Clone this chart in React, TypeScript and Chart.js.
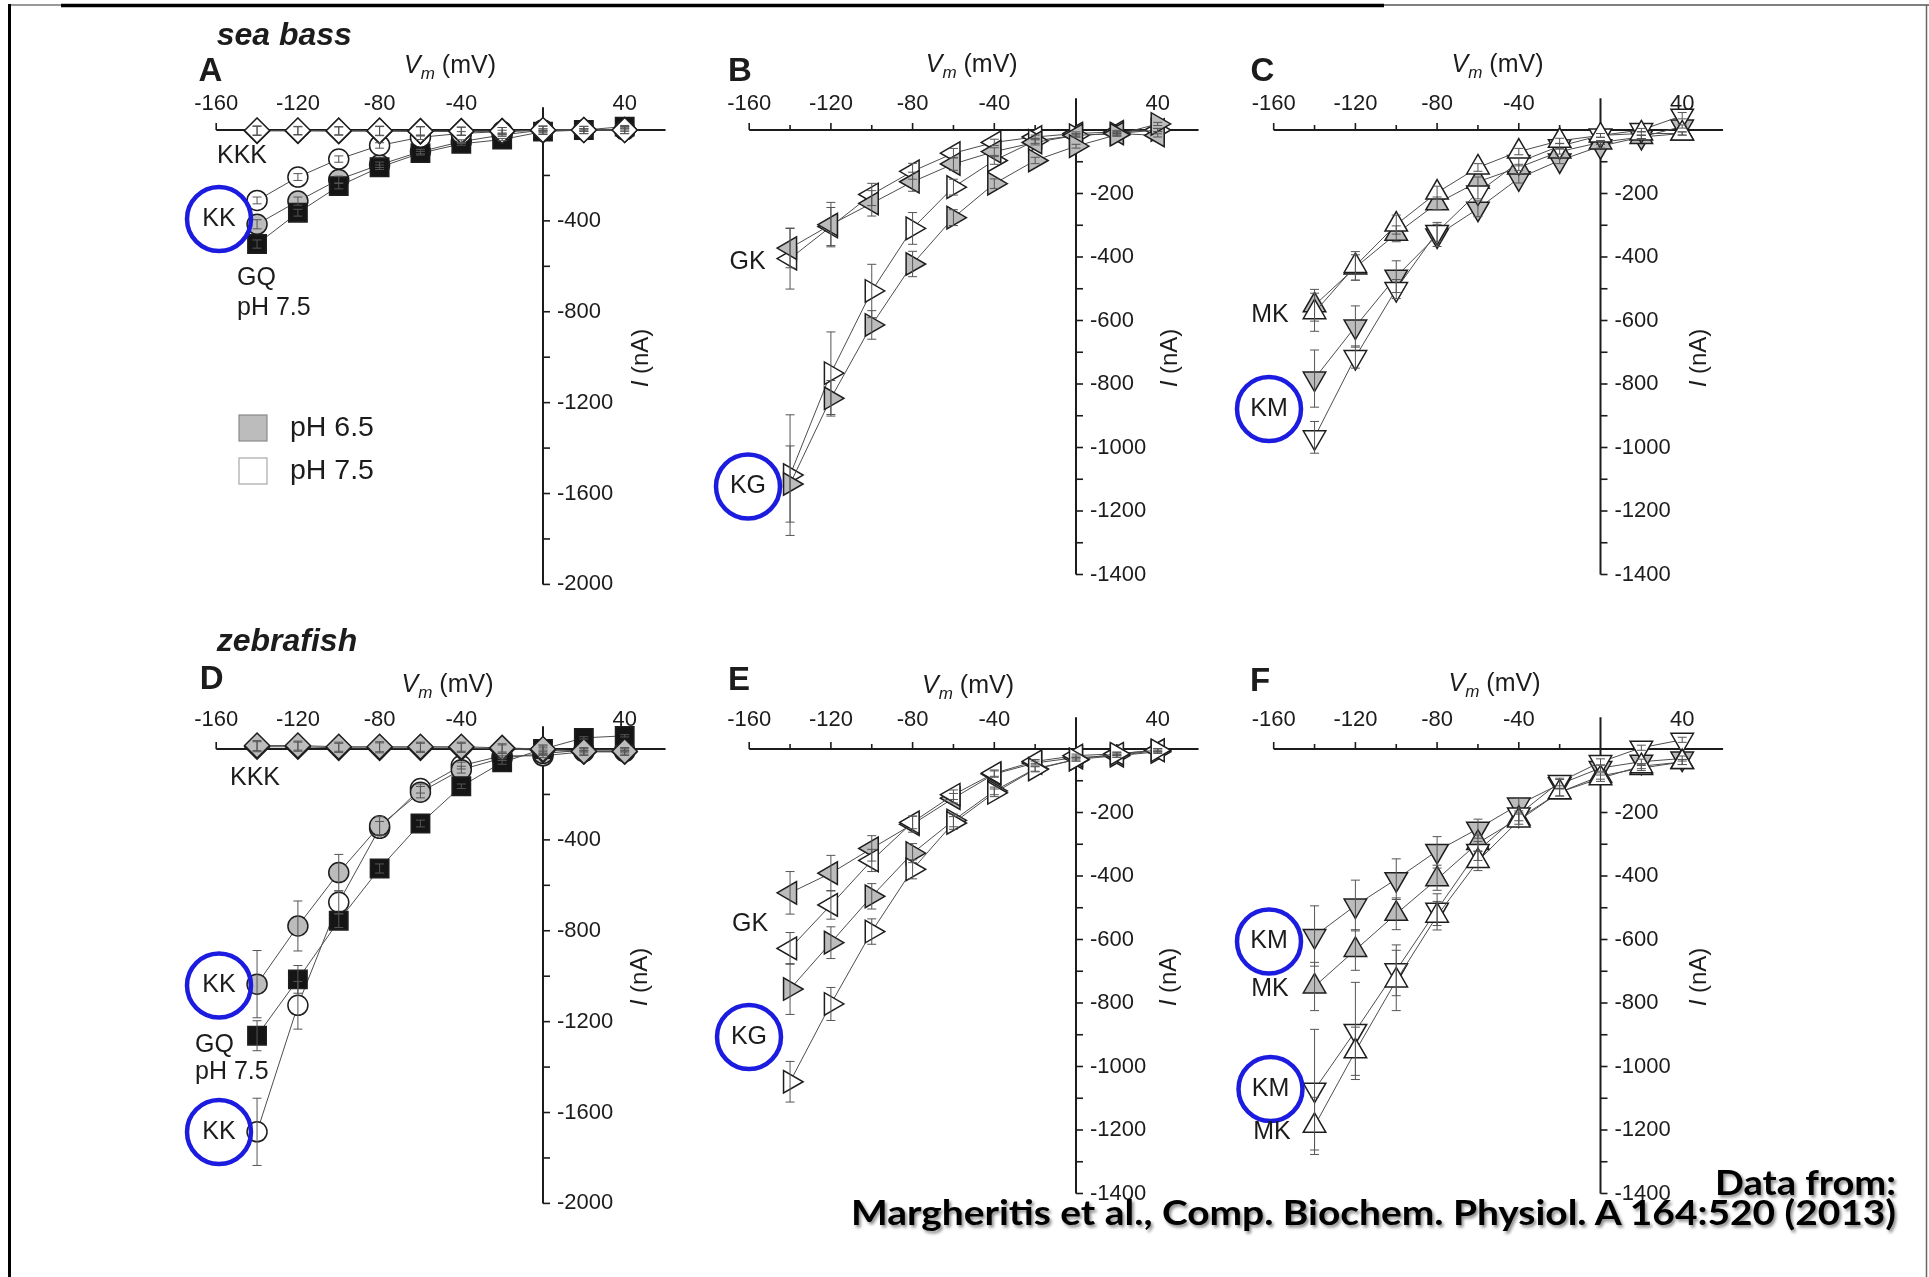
import React, { useEffect, useRef } from 'react';
import { Chart, registerables } from 'chart.js';

Chart.register(...registerables);

// ---------------- data ----------------
const VOLTAGES = [-140, -120, -100, -80, -60, -40, -20, 0, 20, 40];
const X_TICKS = [-160, -140, -120, -100, -80, -60, -40, -20, 20, 40];
const X_TICK_LABELS = [-160, -120, -80, -40, 40];
const Y_TICKS_WIDE = [-200, -400, -600, -800, -1000, -1200, -1400, -1600, -1800, -2000];
const Y_TICK_LABELS_WIDE = [-400, -800, -1200, -1600, -2000];
const Y_TICKS_NARROW = [-100, -200, -300, -400, -500, -600, -700, -800, -900, -1000, -1100, -1200, -1300, -1400];
const Y_TICK_LABELS_NARROW = [-200, -400, -600, -800, -1000, -1200, -1400];

// A — sea bass, KKK / KK / GQ
const SB_KKK_PH75 = [-2, -2, -3, -3, -5, -5, -5, 0, 0, 0];
const SB_KKK_PH65 = [-4, -4, -5, -5, -6, -6, -5, -2, 0, 0];
const SB_KK_PH75 = [-310, -207, -128, -68, -32, -15, -7, 0, 0, 0];
const SB_KK_PH65 = [-415, -313, -218, -153, -95, -51, -22, 0, 0, 0];
const SB_GQ_PH75 = [-502, -364, -247, -164, -102, -61, -42, -7, 0, 15];
const SB_KKK_ERR = [20, 18, 18, 20, 20, 18, 16, 18, 16, 16];
const SB_KK_PH75_ERR = [15, 15, 14, 12, 10, 8, 6, 5, 5, 5];
const SB_KK_PH65_ERR = [20, 18, 15, 12, 10, 8, 6, 5, 5, 5];
const SB_GQ_ERR = [18, 15, 12, 10, 8, 6, 5, 5, 5, 5];

// B — sea bass, GK / KG
const SB_GK_PH65 = [-372, -298, -231, -163, -107, -68, -39, -17, -11, -17];
const SB_GK_PH75 = [-405, -304, -203, -130, -73, -39, -22, -11, -6, 0];
const SB_KG_PH75 = [-1087, -766, -507, -310, -180, -96, -34, -17, -11, 0];
const SB_KG_PH65 = [-1115, -845, -614, -422, -276, -169, -96, -51, -15, 19];
const SB_GK_PH65_ERR = [62, 70, 40, 30, 20, 12, 8, 5, 5, 5];
const SB_GK_PH75_ERR = [96, 60, 35, 25, 15, 10, 6, 5, 5, 5];
const SB_KG_PH75_ERR = [190, 130, 84, 50, 25, 12, 8, 5, 5, 5];
const SB_KG_PH65_ERR = [120, 56, 45, 40, 25, 15, 10, 6, 5, 5];

// C — sea bass, MK / KM
const SB_MK_PH75 = [-574, -428, -298, -197, -118, -68, -34, -17, -11, -11];
const SB_MK_PH65 = [-552, -433, -327, -231, -163, -118, -68, -39, -22, -11];
const SB_KM_PH65 = [-783, -619, -462, -332, -248, -152, -96, -51, -22, 11];
const SB_KM_PH75 = [-968, -715, -501, -321, -197, -101, -51, -17, 0, 45];
const SB_MK_PH75_ERR = [60, 45, 30, 20, 12, 10, 8, 6, 5, 5];
const SB_MK_PH65_ERR = [50, 40, 25, 20, 15, 10, 8, 6, 5, 5];
const SB_KM_PH65_ERR = [90, 65, 50, 35, 25, 15, 10, 6, 5, 5];
const SB_KM_PH75_ERR = [50, 35, 30, 30, 20, 12, 8, 6, 5, 10];

// D — zebrafish, KKK / KK / GQ
const ZF_KKK_PH65 = [15, 15, 10, 10, 10, 10, 5, 0, -10, -10];
const ZF_KKK_PH75 = [10, 10, 5, 5, 5, 5, 0, -5, -12, -12];
const ZF_KK_PH65 = [-1035, -779, -544, -338, -190, -91, -40, -20, -5, -5];
const ZF_KK_PH75 = [-1685, -1128, -675, -349, -174, -73, -30, -30, -12, -12];
const ZF_GQ_PH75 = [-1262, -1014, -756, -526, -328, -164, -59, 0, 49, 58];
const ZF_KKK_ERR = [22, 20, 20, 22, 20, 20, 18, 18, 16, 16];
const ZF_KK_PH65_ERR = [148, 110, 80, 40, 25, 15, 10, 8, 5, 5];
const ZF_KK_PH75_ERR = [148, 105, 50, 30, 20, 15, 10, 8, 5, 5];
const ZF_GQ_ERR = [66, 61, 30, 20, 15, 10, 8, 5, 5, 5];

// E — zebrafish, GK / KG
const ZF_GK_PH65 = [-453, -391, -313, -237, -155, -79, -44, -27, -21, -4];
const ZF_GK_PH75 = [-628, -491, -351, -231, -144, -76, -39, -21, -15, -4];
const ZF_KG_PH65 = [-756, -610, -464, -328, -225, -132, -62, -33, -21, -9];
const ZF_KG_PH75 = [-1048, -803, -575, -379, -233, -138, -64, -33, -15, -4];
const ZF_GK_PH65_ERR = [67, 56, 40, 25, 15, 10, 6, 5, 5, 5];
const ZF_GK_PH75_ERR = [50, 45, 35, 20, 15, 10, 6, 5, 5, 5];
const ZF_KG_PH65_ERR = [80, 50, 40, 30, 20, 12, 8, 5, 5, 5];
const ZF_KG_PH75_ERR = [64, 52, 40, 30, 20, 12, 8, 5, 5, 5];

// F — zebrafish, KM / MK
const ZF_KM_PH65 = [-589, -493, -410, -321, -251, -175, -111, -60, -40, -30];
const ZF_MK_PH65 = [-748, -633, -519, -410, -296, -219, -136, -85, -60, -41];
const ZF_KM_PH75 = [-1073, -888, -697, -506, -321, -206, -104, -41, 4, 29];
const ZF_MK_PH75 = [-1187, -952, -729, -525, -353, -225, -136, -92, -54, -41];
const ZF_KM_PH65_ERR = [95, 80, 64, 45, 30, 20, 15, 10, 8, 8];
const ZF_MK_PH65_ERR = [76, 64, 50, 35, 25, 18, 12, 10, 8, 8];
const ZF_KM_PH75_ERR = [190, 153, 80, 50, 30, 20, 12, 10, 8, 8];
const ZF_MK_PH75_ERR = [90, 76, 95, 45, 30, 20, 12, 10, 8, 8];

const CREDIT_LINE_1 = 'Data from:';
const CREDIT_LINE_2 = 'Margheritis et al., Comp. Biochem. Physiol. A 164:520 (2013)';

// ---------------- styles / layout ----------------
const FONT = '"Liberation Sans", Arial, Helvetica, sans-serif';
const TEXT_COLOR = '#1c1c1c';
const AXIS_COLOR = '#1c1c1c';
const LINE_COLOR = '#4d4d4d';
const MARKER_EDGE = '#1e1e1e';
const ERR_COLOR = '#555555';
const BLUE = '#1c1ce0';
const GREY = '#bcbcbc';
const WHITE = '#ffffff';
const BLACK = '#151515';

const X_MIN = -160;
const X_MAX = 60;
const Y_MAX = 100;
const COL_ZERO_X = [543, 1076, 1600.5];
const ROW_ZERO_Y = [130, 749];
const PX_PER_MV = 2.0425;
const PX_PER_NA_WIDE = 0.2272;
const PX_PER_NA_NARROW = 0.3175;
const COL_BOX = [[140, 690], [690, 1215], [1215, 1760]];
const ROW_BOX = [[0, 620], [620, 1277]];
const X_LABEL_OFFSET = [26, 29];

type Shape = 'circle' | 'square' | 'diamond' | 'up' | 'down' | 'left' | 'right';
const SHAPES: Record<Shape, { style: string; rotation: number; radius: number }> = {
  circle: { style: 'circle', rotation: 0, radius: 10 },
  square: { style: 'rect', rotation: 0, radius: 13 },
  diamond: { style: 'rectRot', rotation: 0, radius: 12.5 },
  up: { style: 'triangle', rotation: 0, radius: 13 },
  down: { style: 'triangle', rotation: 180, radius: 13 },
  left: { style: 'triangle', rotation: 270, radius: 13 },
  right: { style: 'triangle', rotation: 90, radius: 13 },
};

type Series = { values: number[]; errors: number[]; shape: Shape; fill: string };
type Note = { text: string; x: number; y: number; align?: 'left' | 'center'; circled?: boolean };
type Panel = {
  letter: string;
  col: number;
  row: number;
  yMin: number;
  yTicks: number[];
  yLabels: number[];
  series: Series[]; // topmost first
  notes: Note[];
  letterPos: [number, number];
  vmPos: [number, number];
  inaPos: [number, number];
  title?: { text: string; x: number; y: number };
  legend?: boolean;
};

const PANELS: Panel[] = [
  {
    letter: 'A', col: 0, row: 0, yMin: -2000, yTicks: Y_TICKS_WIDE, yLabels: Y_TICK_LABELS_WIDE,
    series: [
      { values: SB_KKK_PH75, errors: SB_KKK_ERR, shape: 'diamond', fill: WHITE },
      { values: SB_KKK_PH65, errors: SB_KKK_ERR, shape: 'diamond', fill: GREY },
      { values: SB_KK_PH75, errors: SB_KK_PH75_ERR, shape: 'circle', fill: WHITE },
      { values: SB_GQ_PH75, errors: SB_GQ_ERR, shape: 'square', fill: BLACK },
      { values: SB_KK_PH65, errors: SB_KK_PH65_ERR, shape: 'circle', fill: GREY },
    ],
    notes: [
      { text: 'KKK', x: 242, y: 156 },
      { text: 'KK', x: 219, y: 219, circled: true },
      { text: 'GQ', x: 237, y: 278, align: 'left' },
      { text: 'pH 7.5', x: 237, y: 308, align: 'left' },
    ],
    letterPos: [210.5, 71.5], vmPos: [450, 66.7], inaPos: [641, 358],
    title: { text: 'sea bass', x: 216.7, y: 45 }, legend: true,
  },
  {
    letter: 'B', col: 1, row: 0, yMin: -1400, yTicks: Y_TICKS_NARROW, yLabels: Y_TICK_LABELS_NARROW,
    series: [
      { values: SB_KG_PH65, errors: SB_KG_PH65_ERR, shape: 'right', fill: GREY },
      { values: SB_GK_PH65, errors: SB_GK_PH65_ERR, shape: 'left', fill: GREY },
      { values: SB_KG_PH75, errors: SB_KG_PH75_ERR, shape: 'right', fill: WHITE },
      { values: SB_GK_PH75, errors: SB_GK_PH75_ERR, shape: 'left', fill: WHITE },
    ],
    notes: [
      { text: 'GK', x: 747.5, y: 262 },
      { text: 'KG', x: 748, y: 486.5, circled: true },
    ],
    letterPos: [740, 71.5], vmPos: [971.7, 65], inaPos: [1170, 358],
  },
  {
    letter: 'C', col: 2, row: 0, yMin: -1400, yTicks: Y_TICKS_NARROW, yLabels: Y_TICK_LABELS_NARROW,
    series: [
      { values: SB_MK_PH75, errors: SB_MK_PH75_ERR, shape: 'up', fill: WHITE },
      { values: SB_KM_PH75, errors: SB_KM_PH75_ERR, shape: 'down', fill: WHITE },
      { values: SB_MK_PH65, errors: SB_MK_PH65_ERR, shape: 'up', fill: GREY },
      { values: SB_KM_PH65, errors: SB_KM_PH65_ERR, shape: 'down', fill: GREY },
    ],
    notes: [
      { text: 'MK', x: 1270, y: 315 },
      { text: 'KM', x: 1269, y: 409, circled: true },
    ],
    letterPos: [1262.5, 71.5], vmPos: [1497.5, 65], inaPos: [1699, 358],
  },
  {
    letter: 'D', col: 0, row: 1, yMin: -2000, yTicks: Y_TICKS_WIDE, yLabels: Y_TICK_LABELS_WIDE,
    series: [
      { values: ZF_KKK_PH65, errors: ZF_KKK_ERR, shape: 'diamond', fill: GREY },
      { values: ZF_KKK_PH75, errors: ZF_KKK_ERR, shape: 'diamond', fill: WHITE },
      { values: ZF_GQ_PH75, errors: ZF_GQ_ERR, shape: 'square', fill: BLACK },
      { values: ZF_KK_PH65, errors: ZF_KK_PH65_ERR, shape: 'circle', fill: GREY },
      { values: ZF_KK_PH75, errors: ZF_KK_PH75_ERR, shape: 'circle', fill: WHITE },
    ],
    notes: [
      { text: 'KKK', x: 255, y: 778 },
      { text: 'KK', x: 219, y: 985.5, circled: true },
      { text: 'GQ', x: 195, y: 1045, align: 'left' },
      { text: 'pH 7.5', x: 195, y: 1072.5, align: 'left' },
      { text: 'KK', x: 219, y: 1132, circled: true },
    ],
    letterPos: [211.7, 680], vmPos: [447.5, 685], inaPos: [640, 977],
    title: { text: 'zebrafish', x: 216.7, y: 650.6 },
  },
  {
    letter: 'E', col: 1, row: 1, yMin: -1400, yTicks: Y_TICKS_NARROW, yLabels: Y_TICK_LABELS_NARROW,
    series: [
      { values: ZF_KG_PH75, errors: ZF_KG_PH75_ERR, shape: 'right', fill: WHITE },
      { values: ZF_GK_PH75, errors: ZF_GK_PH75_ERR, shape: 'left', fill: WHITE },
      { values: ZF_KG_PH65, errors: ZF_KG_PH65_ERR, shape: 'right', fill: GREY },
      { values: ZF_GK_PH65, errors: ZF_GK_PH65_ERR, shape: 'left', fill: GREY },
    ],
    notes: [
      { text: 'GK', x: 750, y: 924 },
      { text: 'KG', x: 749, y: 1037, circled: true },
    ],
    letterPos: [739, 681], vmPos: [968, 686], inaPos: [1169, 977],
  },
  {
    letter: 'F', col: 2, row: 1, yMin: -1400, yTicks: Y_TICKS_NARROW, yLabels: Y_TICK_LABELS_NARROW,
    series: [
      { values: ZF_MK_PH75, errors: ZF_MK_PH75_ERR, shape: 'up', fill: WHITE },
      { values: ZF_KM_PH75, errors: ZF_KM_PH75_ERR, shape: 'down', fill: WHITE },
      { values: ZF_MK_PH65, errors: ZF_MK_PH65_ERR, shape: 'up', fill: GREY },
      { values: ZF_KM_PH65, errors: ZF_KM_PH65_ERR, shape: 'down', fill: GREY },
    ],
    notes: [
      { text: 'KM', x: 1269, y: 941.5, circled: true },
      { text: 'MK', x: 1270, y: 989 },
      { text: 'KM', x: 1270.5, y: 1089, circled: true },
      { text: 'MK', x: 1272, y: 1132 },
    ],
    letterPos: [1260, 681.5], vmPos: [1494.5, 684.7], inaPos: [1699, 977],
  },
];

function drawVm(ctx: CanvasRenderingContext2D, cx: number, cy: number) {
  const big = `italic 25px ${FONT}`;
  const sub = `italic 17px ${FONT}`;
  const norm = `25px ${FONT}`;
  ctx.font = big; const wV = ctx.measureText('V').width;
  ctx.font = sub; const wm = ctx.measureText('m').width;
  ctx.font = norm; const wr = ctx.measureText(' (mV)').width;
  let x = cx - (wV + wm + wr) / 2;
  const base = cy + 6.5;
  ctx.textAlign = 'left';
  ctx.textBaseline = 'alphabetic';
  ctx.font = big; ctx.fillText('V', x, base); x += wV;
  ctx.font = sub; ctx.fillText('m', x, base + 6); x += wm;
  ctx.font = norm; ctx.fillText(' (mV)', x, base);
}

function drawINa(ctx: CanvasRenderingContext2D, cx: number, cy: number) {
  ctx.save();
  ctx.translate(cx, cy);
  ctx.rotate(-Math.PI / 2);
  const it = `italic 24px ${FONT}`;
  const norm = `24px ${FONT}`;
  ctx.font = it; const wI = ctx.measureText('I').width;
  ctx.font = norm; const wr = ctx.measureText(' (nA)').width;
  let x = -(wI + wr) / 2;
  ctx.textAlign = 'left';
  ctx.textBaseline = 'middle';
  ctx.font = it; ctx.fillText('I', x, 0); x += wI;
  ctx.font = norm; ctx.fillText(' (nA)', x, 0);
  ctx.restore();
}

function makePlugin(panel: Panel, bx0: number, by0: number) {
  return {
    id: 'ivPanel' + panel.letter,
    beforeDatasetsDraw(chart: any) {
      const ctx: CanvasRenderingContext2D = chart.ctx;
      const px = (v: number) => chart.scales.x.getPixelForValue(v);
      const py = (v: number) => chart.scales.y.getPixelForValue(v);
      ctx.save();
      ctx.strokeStyle = AXIS_COLOR;
      ctx.lineWidth = 2;
      ctx.beginPath();
      ctx.moveTo(px(X_MIN), py(0));
      ctx.lineTo(px(X_MAX), py(0));
      ctx.stroke();
      ctx.beginPath();
      ctx.moveTo(px(0), py(Y_MAX));
      ctx.lineTo(px(0), py(panel.yMin));
      ctx.stroke();
      ctx.lineWidth = 1.6;
      X_TICKS.forEach((v) => {
        const len = X_TICK_LABELS.includes(v) ? 7 : 5;
        ctx.beginPath();
        ctx.moveTo(px(v), py(0));
        ctx.lineTo(px(v), py(0) - len);
        ctx.stroke();
      });
      panel.yTicks.forEach((v) => {
        ctx.beginPath();
        ctx.moveTo(px(0), py(v));
        ctx.lineTo(px(0) + 7, py(v));
        ctx.stroke();
      });
      ctx.fillStyle = TEXT_COLOR;
      ctx.font = `22px ${FONT}`;
      ctx.textAlign = 'center';
      ctx.textBaseline = 'middle';
      X_TICK_LABELS.forEach((v) => ctx.fillText(String(v), px(v), py(0) - X_LABEL_OFFSET[panel.row]));
      ctx.textAlign = 'left';
      panel.yLabels.forEach((v) => ctx.fillText(String(v), px(0) + 14, py(v)));
      ctx.restore();
    },
    afterDatasetsDraw(chart: any) {
      const ctx: CanvasRenderingContext2D = chart.ctx;
      const px = (v: number) => chart.scales.x.getPixelForValue(v);
      const py = (v: number) => chart.scales.y.getPixelForValue(v);
      ctx.save();
      ctx.strokeStyle = ERR_COLOR;
      ctx.lineWidth = 1;
      const cap = 4.5;
      panel.series.forEach((s) => {
        VOLTAGES.forEach((v, i) => {
          const x = px(v);
          const y1 = py(s.values[i] + s.errors[i]);
          const y2 = py(s.values[i] - s.errors[i]);
          ctx.beginPath();
          ctx.moveTo(x, y1); ctx.lineTo(x, y2);
          ctx.moveTo(x - cap, y1); ctx.lineTo(x + cap, y1);
          ctx.moveTo(x - cap, y2); ctx.lineTo(x + cap, y2);
          ctx.stroke();
        });
      });
      ctx.restore();
    },
    afterDraw(chart: any) {
      const ctx: CanvasRenderingContext2D = chart.ctx;
      const X = (x: number) => x - bx0;
      const Y = (y: number) => y - by0;
      ctx.save();
      ctx.fillStyle = TEXT_COLOR;
      ctx.font = `bold 33px ${FONT}`;
      ctx.textAlign = 'center';
      ctx.textBaseline = 'middle';
      ctx.fillText(panel.letter, X(panel.letterPos[0]), Y(panel.letterPos[1]));
      if (panel.title) {
        ctx.font = `italic bold 32px ${FONT}`;
        ctx.textAlign = 'left';
        ctx.textBaseline = 'alphabetic';
        ctx.fillText(panel.title.text, X(panel.title.x), Y(panel.title.y));
      }
      drawVm(ctx, X(panel.vmPos[0]), Y(panel.vmPos[1]));
      drawINa(ctx, X(panel.inaPos[0]), Y(panel.inaPos[1]));
      ctx.font = `25px ${FONT}`;
      ctx.textBaseline = 'middle';
      panel.notes.forEach((n) => {
        ctx.textAlign = n.align === 'left' ? 'left' : 'center';
        ctx.fillStyle = TEXT_COLOR;
        ctx.fillText(n.text, X(n.x), Y(n.y));
        if (n.circled) {
          ctx.beginPath();
          ctx.strokeStyle = BLUE;
          ctx.lineWidth = 4.5;
          ctx.arc(X(n.x), Y(n.y), 32, 0, Math.PI * 2);
          ctx.stroke();
        }
      });
      if (panel.legend) {
        const items = [
          { fill: GREY, edge: '#8a8a8a', text: 'pH 6.5', top: 415 },
          { fill: WHITE, edge: '#a8a8a8', text: 'pH 7.5', top: 458 },
        ];
        ctx.font = `28.5px ${FONT}`;
        ctx.textAlign = 'left';
        ctx.textBaseline = 'middle';
        items.forEach((it) => {
          ctx.fillStyle = it.fill;
          ctx.fillRect(X(239), Y(it.top), 28, 26);
          ctx.strokeStyle = it.edge;
          ctx.lineWidth = 1.2;
          ctx.strokeRect(X(239), Y(it.top), 28, 26);
          ctx.fillStyle = TEXT_COLOR;
          ctx.fillText(it.text, X(290), Y(it.top + 13));
        });
      }
      ctx.restore();
    },
  };
}

function PanelChart({ panel }: { panel: Panel }) {
  const ref = useRef<HTMLCanvasElement>(null);
  const [bx0, bx1] = COL_BOX[panel.col];
  const [by0, by1] = ROW_BOX[panel.row];
  const w = bx1 - bx0;
  const h = by1 - by0;

  useEffect(() => {
    const canvas = ref.current;
    if (!canvas) return;
    const zeroX = COL_ZERO_X[panel.col];
    const zeroY = ROW_ZERO_Y[panel.row];
    const sy = panel.yMin <= -2000 ? PX_PER_NA_WIDE : PX_PER_NA_NARROW;
    const padding = {
      left: zeroX + X_MIN * PX_PER_MV - bx0,
      right: bx1 - (zeroX + X_MAX * PX_PER_MV),
      top: zeroY - Y_MAX * sy - by0,
      bottom: by1 - (zeroY - panel.yMin * sy),
    };
    const datasets = panel.series.map((s) => {
      const sh = SHAPES[s.shape];
      return {
        data: VOLTAGES.map((v, i) => ({ x: v, y: s.values[i] })),
        borderColor: LINE_COLOR,
        borderWidth: 1,
        pointStyle: sh.style,
        pointRotation: sh.rotation,
        pointRadius: sh.radius,
        pointHoverRadius: sh.radius,
        pointBackgroundColor: s.fill,
        pointBorderColor: MARKER_EDGE,
        pointBorderWidth: 1.5,
        clip: false,
        tension: 0,
        fill: false,
        showLine: true,
      };
    });
    const chart = new Chart(canvas, {
      type: 'line',
      data: { datasets } as any,
      options: {
        animation: false,
        responsive: false,
        maintainAspectRatio: false,
        devicePixelRatio: 1,
        events: [],
        layout: { padding },
        plugins: { legend: { display: false }, tooltip: { enabled: false }, title: { display: false } },
        scales: {
          x: { type: 'linear', min: X_MIN, max: X_MAX, display: false },
          y: { type: 'linear', min: panel.yMin, max: Y_MAX, display: false },
        },
      } as any,
      plugins: [makePlugin(panel, bx0, by0) as any],
    });
    return () => chart.destroy();
  }, [panel]);

  return (
    <canvas
      ref={ref}
      width={w}
      height={h}
      style={{ position: 'absolute', left: bx0, top: by0, width: w, height: h }}
    />
  );
}

export default function App() {
  return (
    <div style={{ position: 'absolute', left: 0, top: 0, width: 1929, height: 1277, overflow: 'hidden', background: '#fff' }}>
      {PANELS.map((p) => (
        <PanelChart key={p.letter} panel={p} />
      ))}
      <svg
        width={1929}
        height={1277}
        style={{ position: 'absolute', left: 0, top: 0, pointerEvents: 'none' }}
      >
        <defs>
          <filter id="creditShadow" x="-5%" y="-30%" width="110%" height="160%">
            <feDropShadow dx="2" dy="2.5" stdDeviation="1.6" floodColor="#000" floodOpacity="0.45" />
          </filter>
        </defs>
        <line x1={8} y1={5} x2={61} y2={5} stroke="#777" strokeWidth={1.5} />
        <line x1={61} y1={5.5} x2={1384} y2={5.5} stroke="#000" strokeWidth={3.5} />
        <line x1={1384} y1={5} x2={1929} y2={5} stroke="#555" strokeWidth={1.5} />
        <line x1={9.5} y1={4} x2={9.5} y2={1277} stroke="#000" strokeWidth={3} />
        <line x1={1926.5} y1={5} x2={1926.5} y2={1277} stroke="#666" strokeWidth={1.5} />
        <g filter="url(#creditShadow)" fill="#000" style={{ fontFamily: 'Lato, "Open Sans", sans-serif', fontWeight: 700 }}>
          <text x={1896} y={1195} fontSize={35} textAnchor="end" textLength={181} lengthAdjust="spacingAndGlyphs">
            {CREDIT_LINE_1}
          </text>
          <text x={1896} y={1225} fontSize={35} textAnchor="end" textLength={1045} lengthAdjust="spacingAndGlyphs">
            {CREDIT_LINE_2}
          </text>
        </g>
      </svg>
    </div>
  );
}
